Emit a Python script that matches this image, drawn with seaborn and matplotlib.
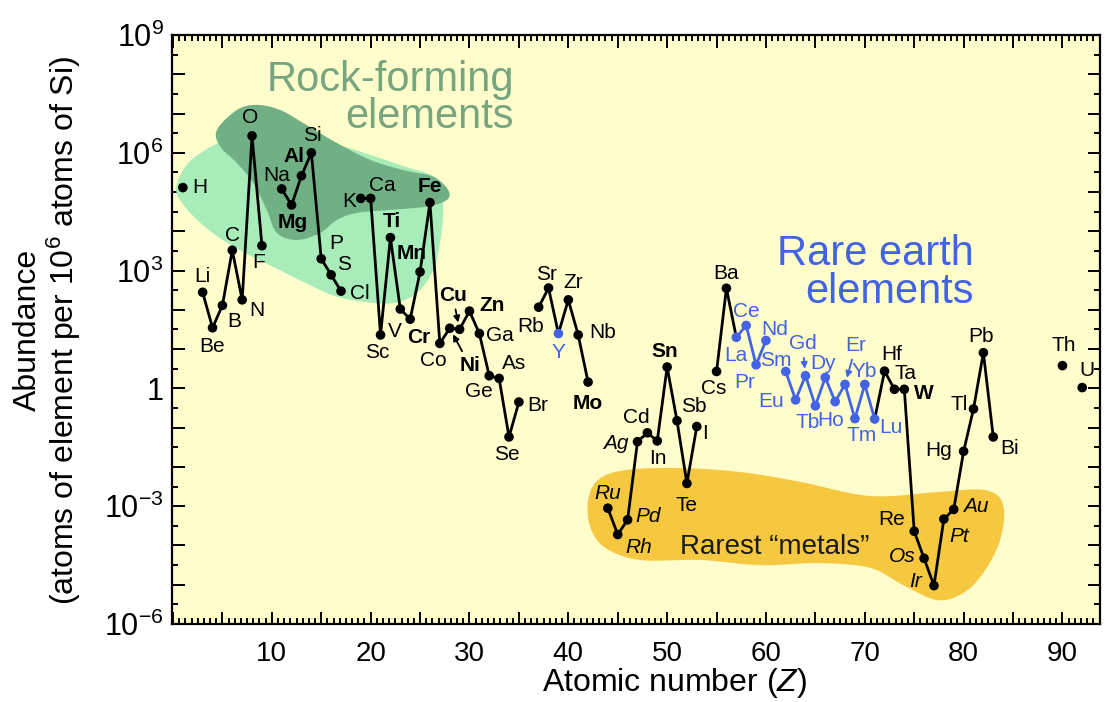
import numpy as np
import pandas as pd
import matplotlib
matplotlib.use("Agg")
import matplotlib.pyplot as plt
import seaborn as sns
from matplotlib.ticker import FixedLocator, MultipleLocator, FuncFormatter, NullFormatter

# abundances (atoms of element per 10^6 atoms of Si)
symbols = ["H", "Li", "Be", "B", "C", "N", "O", "F",
           "Na", "Mg", "Al", "Si", "P", "S", "Cl",
           "K", "Ca", "Sc", "Ti", "V", "Cr", "Mn", "Fe", "Co", "Ni", "Cu", "Zn",
           "Ga", "Ge", "As", "Se", "Br",
           "Rb", "Sr", "Y", "Zr", "Nb", "Mo",
           "Ru", "Rh", "Pd", "Ag", "Cd", "In", "Sn", "Sb", "Te", "I",
           "Cs", "Ba", "La", "Ce", "Pr", "Nd", "Sm", "Eu", "Gd", "Tb", "Dy",
           "Ho", "Er", "Tm", "Yb", "Lu", "Hf", "Ta", "W", "Re", "Os", "Ir",
           "Pt", "Au", "Hg", "Tl", "Pb", "Bi", "Th", "U"]
atomic_z = [1, 3, 4, 5, 6, 7, 8, 9,
            11, 12, 13, 14, 15, 16, 17,
            19, 20, 21, 22, 23, 24, 25, 26, 27, 28, 29, 30,
            31, 32, 33, 34, 35,
            37, 38, 39, 40, 41, 42,
            44, 45, 46, 47, 48, 49, 50, 51, 52, 53,
            55, 56, 57, 58, 59, 60, 62, 63, 64, 65, 66,
            67, 68, 69, 70, 71, 72, 73, 74, 75, 76, 77,
            78, 79, 80, 81, 82, 83, 90, 92]
abundance = [1.3e5, 280, 35, 130, 3300, 180, 2.7e6, 4300,
             1.2e5, 4.7e4, 2.6e5, 1.0e6, 2000, 780, 300,
             6.9e4, 6.9e4, 23, 6900, 105, 58, 930, 5.4e4, 14, 34, 32, 93,
             25, 2.1, 1.8, 0.058, 0.45,
             117, 360, 25, 180, 23, 1.45,
             8.9e-4, 1.9e-4, 4.5e-4, 0.044, 0.074, 0.046, 3.5, 0.15, 3.8e-3, 0.107,
             2.7, 355, 20, 40, 4.0, 16.6, 2.7, 0.51, 2.1, 0.36, 1.9,
             0.46, 1.26, 0.17, 1.26, 0.166, 2.75, 0.95, 0.95, 2.3e-4, 4.7e-5, 9.5e-6,
             4.7e-4, 8.3e-4, 0.025, 0.30, 8.1, 0.058, 3.8, 1.05]

# which atomic numbers are joined by lines
black_chains = [(3, 9), (11, 17), (19, 35), (37, 42), (44, 53), (55, 57), (71, 83)]
blue_chains = [(57, 60), (62, 71)]
ree_z = [39] + list(range(57, 72))

bold_syms = {"Mg", "Al", "Ti", "Mn", "Fe", "Cr", "Cu", "Ni", "Zn", "Sn", "Mo", "W"}
italic_syms = {"Ru", "Rh", "Pd", "Ag", "Os", "Ir", "Pt", "Au"}
arrow_syms = {"Ni", "Cu", "Gd", "Er"}

# label offsets from the dot, in pixels (x right, y up)
label_offsets = {
    "H": (17, 0), "Li": (0, 16), "Be": (0, -19), "B": (12, -16), "C": (0, 15),
    "N": (15, -11), "O": (-2, 18), "F": (-3, -17), "Na": (-5, 13), "Mg": (1, -18),
    "Al": (-7, 19), "Si": (1, 17), "P": (15, 15), "S": (13, 10), "Cl": (19, -2),
    "K": (-12, -3), "Ca": (12, 13), "Sc": (-3, -18), "Ti": (1, 16), "V": (-5, -22),
    "Cr": (9, -18), "Mn": (-8, 18), "Fe": (0, 16), "Co": (-7, -17), "Ni": (20, -37),
    "Cu": (-7, 34), "Zn": (23, 6), "Ga": (21, -2), "Ge": (-10, -16), "As": (15, 15),
    "Se": (-2, -18), "Br": (19, -3), "Rb": (-8, -19), "Sr": (-2, 14), "Y": (0, -19),
    "Zr": (5, 17), "Nb": (24, 2), "Mo": (0, -21), "Ru": (0, 15), "Rh": (21, -13),
    "Pd": (21, 3), "Ag": (-22, -2), "Cd": (-11, 15), "In": (1, -18), "Sn": (-2, 16),
    "Sb": (17, 14), "Te": (0, -22), "I": (8, -7), "Cs": (-3, -17), "Ba": (0, 15),
    "La": (0, -18), "Ce": (0, 14), "Pr": (-11, -18), "Nd": (9, 11), "Sm": (-10, 11),
    "Eu": (-24, -2), "Gd": (-3, 32), "Tb": (-8, -17), "Dy": (-2, 14), "Ho": (-5, -19),
    "Er": (11, 39), "Tm": (7, -17), "Yb": (-1, 13), "Lu": (16, -8), "Hf": (7, 17),
    "Ta": (11, 16), "W": (20, -4), "Re": (-23, 12), "Os": (-22, 2), "Ir": (-18, 4),
    "Pt": (15, -17), "Au": (22, 3), "Hg": (-25, 1), "Tl": (-14, 4), "Pb": (-2, 16),
    "Bi": (16, -12), "Th": (1, 20), "U": (5, 17),
}

# background blobs, outline in (Z, log10 abundance)
light_blob_z = [0.53, 1.54, 2.95, 4.57, 7.81, 14.89, 22.99, 26.83, 27.34, 27.14, 26.43,
                24.81, 22.48, 19.45, 16.41, 13.38, 10.34, 7.31, 4.27, 1.94, 0.43]
light_blob_l = [5.31, 5.74, 6.02, 6.25, 6.63, 6.33, 5.69, 5.31, 4.59, 3.91, 3.07,
                2.46, 2.18, 2.20, 2.35, 2.69, 3.07, 3.45, 3.91, 4.42, 4.93]
dark_blob_z = [4.44, 6.47, 8.49, 10.85, 13.17, 16.58, 19.95, 23.29, 26.33, 27.85, 27.71,
               25.69, 21.64, 18.61, 16.58, 14.89, 12.54, 10.51, 9.50, 8.12, 6.47, 4.78]
dark_blob_l = [6.58, 7.09, 7.22, 7.09, 6.76, 6.25, 5.82, 5.56, 5.39, 5.05, 4.80,
               4.63, 4.54, 4.47, 4.29, 3.96, 3.78, 3.96, 4.54, 5.23, 5.74, 6.16]
gold_blob_z = [42.01, 43.02, 45.76, 51.32, 57.39, 63.46, 70.55, 77.33, 82.18, 84.00, 83.70,
               81.98, 79.96, 77.33, 73.89, 70.55, 65.49, 59.42, 53.36, 47.28, 43.74, 42.22]
gold_blob_l = [-2.84, -2.33, -2.08, -2.03, -2.13, -2.38, -2.74, -2.64, -2.59, -2.97, -3.86,
               -4.70, -5.21, -5.39, -5.01, -4.57, -4.45, -4.50, -4.37, -4.37, -4.06, -3.53]

BLUE = "#4163e4"
BG = "#fffdcc"
LIGHT_GREEN = "#a8ecb9"
DARK_GREEN = "#71b084"
GOLD = "#f5c840"
GREEN_TXT = "#76a57f"

sns.set_style("ticks")
plt.rcParams["font.family"] = ["Liberation Sans", "DejaVu Sans"]
plt.rcParams["mathtext.fontset"] = "custom"
plt.rcParams["mathtext.rm"] = "Liberation Sans"
plt.rcParams["mathtext.it"] = "Liberation Sans:italic"
plt.rcParams["mathtext.bf"] = "Liberation Sans:bold"
for key in ["text.color", "axes.labelcolor", "xtick.color", "ytick.color"]:
    plt.rcParams[key] = "black"

df = pd.DataFrame({"sym": symbols, "Z": atomic_z, "abund": abundance})
df["grp"] = np.where(df["Z"].isin(ree_z), "ree", "main")


def chain_frame(ranges):
    parts = []
    for k, (a, b) in enumerate(ranges):
        part = df[(df["Z"] >= a) & (df["Z"] <= b)].copy()
        part["chain"] = k
        parts.append(part)
    return pd.concat(parts, ignore_index=True)


def smooth_closed(xs, ys, n=30):
    # periodic Catmull-Rom through the outline points
    pts = np.column_stack([xs, ys])
    m = len(pts)
    t = np.linspace(0, 1, n, endpoint=False)[:, None]
    out = []
    for i in range(m):
        p0, p1, p2, p3 = pts[i - 1], pts[i], pts[(i + 1) % m], pts[(i + 2) % m]
        out.append(0.5 * (2 * p1 + (-p0 + p2) * t + (2 * p0 - 5 * p1 + 4 * p2 - p3) * t ** 2
                          + (-p0 + 3 * p1 - 3 * p2 + p3) * t ** 3))
    out = np.vstack(out)
    return out[:, 0], out[:, 1]


W, H = 1105, 702
fig = plt.figure(figsize=(W / 100, H / 100), dpi=100)
ax = fig.add_axes([172 / W, 1 - 624 / H, 928 / W, 589 / H])
ax.set_facecolor(BG)
ax.set_yscale("log")

for bz, bl, col in [(light_blob_z, light_blob_l, LIGHT_GREEN),
                    (dark_blob_z, dark_blob_l, DARK_GREEN),
                    (gold_blob_z, gold_blob_l, GOLD)]:
    sx, sy = smooth_closed(bz, bl)
    ax.fill(sx, 10 ** sy, color=col, lw=0, zorder=1)

sns.lineplot(data=chain_frame(black_chains), x="Z", y="abund", units="chain",
             estimator=None, sort=False, color="black", lw=2.0, ax=ax, zorder=3)
sns.lineplot(data=chain_frame(blue_chains), x="Z", y="abund", units="chain",
             estimator=None, sort=False, color=BLUE, lw=2.0, ax=ax, zorder=3)
sns.scatterplot(data=df, x="Z", y="abund", hue="grp",
                palette={"main": "black", "ree": BLUE}, s=48, edgecolor="none",
                legend=False, ax=ax, zorder=4)

for row in df.itertuples():
    dx, dy = label_offsets[row.sym]
    col = BLUE if row.grp == "ree" else "black"
    kw = dict(fontsize=15, ha="center", va="center", color=col, zorder=5,
              fontweight="bold" if row.sym in bold_syms else "normal",
              fontstyle="italic" if row.sym in italic_syms else "normal")
    if row.sym in arrow_syms:
        kw["arrowprops"] = dict(arrowstyle="-|>", color=col, lw=1.3, shrinkA=1,
                                shrinkB=5, mutation_scale=9)
    ax.annotate(row.sym, (row.Z, row.abund), xytext=(dx, dy),
                textcoords="offset pixels", **kw)

ax.set_xlim(-0.1, 93.8)
ax.set_ylim(1e-6, 1e9)

ax.xaxis.set_major_locator(MultipleLocator(5))
ax.xaxis.set_minor_locator(MultipleLocator(0.625))
ax.xaxis.set_major_formatter(FuncFormatter(lambda v, p: f"{int(v)}" if v > 0 and v % 10 == 0 else ""))
ax.yaxis.set_major_locator(FixedLocator([10.0 ** e for e in range(-6, 10)]))
ax.yaxis.set_minor_locator(FixedLocator([10.0 ** (e + 0.5) for e in range(-6, 9)]))


def ylab(v, p):
    e = int(round(np.log10(v)))
    if e % 3:
        return ""
    return "1" if e == 0 else r"$\mathregular{10^{%d}}$" % e


ax.yaxis.set_major_formatter(FuncFormatter(ylab))
ax.yaxis.set_minor_formatter(NullFormatter())
ax.tick_params(which="both", direction="in", top=True, right=True, width=1.4, color="black")
ax.tick_params(which="major", length=9)
ax.tick_params(which="minor", length=4.3)
ax.tick_params(axis="x", which="major", labelsize=20, pad=12)
ax.tick_params(axis="y", which="major", labelsize=22, pad=6)
for s in ax.spines.values():
    s.set_linewidth(1.6)
    s.set_color("black")
ax.set_xlabel("")
ax.set_ylabel("")

fig.text(675 / W, 1 - 683 / H, r"Atomic number ($\mathit{Z}$)", fontsize=23,
         ha="center", va="center")
fig.text(48 / W, 1 - 330 / H, "Abundance\n(atoms of element per 10$^{6}$ atoms of Si)",
         fontsize=23, rotation=90, ha="center", va="center", multialignment="center",
         linespacing=1.05)

fig.text(514 / W, 1 - 80 / H, "Rock-forming", fontsize=30, color=GREEN_TXT,
         ha="right", va="center")
fig.text(514 / W, 1 - 117 / H, "elements", fontsize=30, color=GREEN_TXT,
         ha="right", va="center")
fig.text(974 / W, 1 - 273 / H, "Rare earth\nelements", fontsize=30, color=BLUE,
         ha="right", va="center", multialignment="right", linespacing=0.95)
fig.text(775 / W, 1 - 547 / H, "Rarest \u201cmetals\u201d", fontsize=20, color="#1a1a1a",
         ha="center", va="center")

fig.savefig("out.png", dpi=100, facecolor="white")
